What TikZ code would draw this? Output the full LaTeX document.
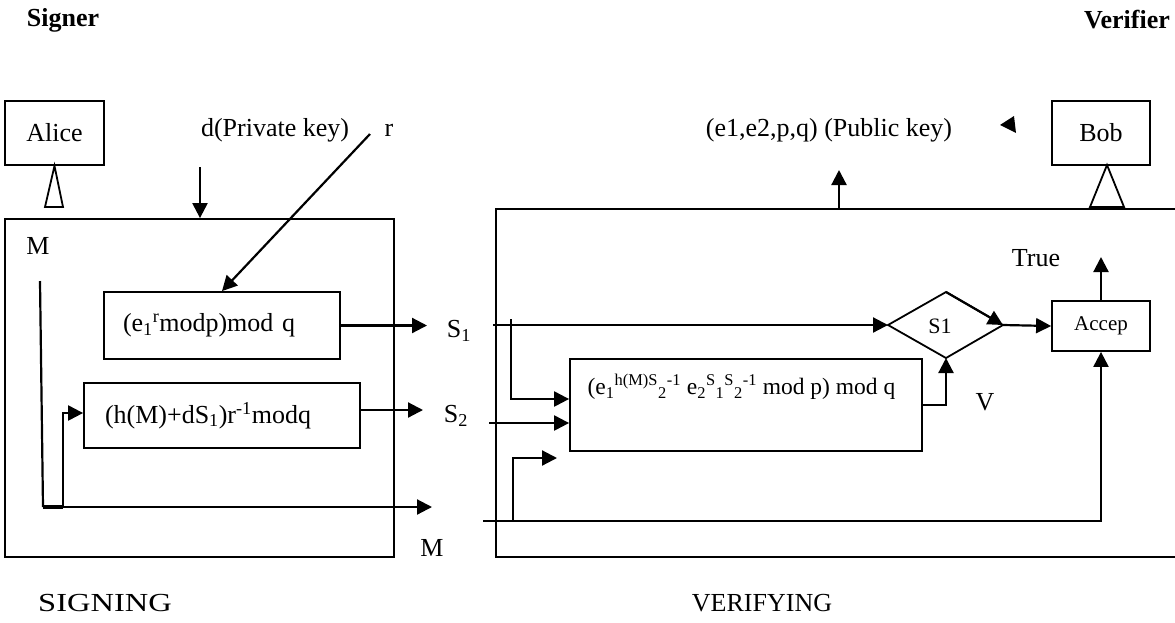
\documentclass[tikz,border=0pt]{standalone}
\usepackage{fontspec}
\usepackage{graphicx}
\setmainfont{Liberation Serif}
\usetikzlibrary{arrows.meta}
\newcommand\mysub[1]{\textsubscript{#1}}
\newcommand\mysup[1]{\textsuperscript{#1}}
\tikzset{
  box/.style={draw, line width=1.8pt, inner sep=0pt},
  txt/.style={inner sep=0pt},
  arr/.style={line width=2.2pt, -{Triangle[length=15pt,width=15pt]}},
  ln/.style={line width=2.2pt},
  outline/.style={line width=1.8pt},
}
\begin{document}
\begin{tikzpicture}[x=1pt,y=-1pt,font=\fontsize{26}{31}\selectfont,line join=miter]
\useasboundingbox (0,0) rectangle (1175,622);

% titles
\node[txt,font=\fontsize{26}{31}\selectfont\bfseries] (signer) at (63,20) {Signer};
\node[txt,font=\fontsize{26}{31}\selectfont\bfseries] (verifier) at (1127,20) {Verifier};

% actors
\node[box,minimum width=99pt,minimum height=64pt] (alice) at (54.5,133) {Alice};
\node[box,minimum width=98pt,minimum height=64pt] (bob) at (1101,133) {Bob};
\draw[outline] (alice.south) -- (45,207) -- (63,207) -- cycle;
\draw[outline] (1107,165) -- (1090,207) -- (1124,207) -- cycle;

% key labels
\node[txt] (dkey) at (275,130) {d(Private key)};
\node[txt] (r) at (389,130) {r};
\node[txt] (pk) at (829,130) {(e1,e2,p,q) (Public key)};
\fill (1000,125) -- (1014,116) -- (1016,133) -- cycle;

% signing
\node[box,minimum width=389pt,minimum height=338pt] (sign) at (199.5,388) {};
\node[box,minimum height=67pt,inner xsep=19pt,text width=198pt,align=left] (b1) at (222,325.5) {(e\mysub{1}\mysup{r}modp)mod q};
\node[box,minimum height=65pt,inner xsep=21pt,text width=234pt,align=left] (b2) at (222,415.5) {(h(M)+dS\mysub{1})r\mysup{-1}modq};

\coordinate (dstart) at (200,167);
\draw[arr] (dstart) -- (dstart |- sign.north);
\coordinate (rstart) at (370,134);
\draw[arr] (rstart) -- (b1.north);

\node[txt] (s1) at (459,331) {S\mysub{1}};
\node[txt] (s2) at (456,416) {S\mysub{2}};
\coordinate (s1tip) at (427,325.5);
\coordinate (s2tip) at (423,410);
\draw[arr] (b1.east) -- (s1tip);
\draw[arr] (b2.east |- s2tip) -- (s2tip);

\node[txt] (m1) at (38,246) {M};
\node[txt] (m2) at (432,548) {M};
\coordinate (mtop) at (40,281);
\coordinate (mcorner) at (43,507);
\coordinate (mjoin) at (63,507);
\coordinate (mout) at (432,507);
\draw[ln] (mtop) -- (mcorner);
\draw[arr] (mcorner) -- (mout);
\draw[line width=3.5pt] (mcorner) -- (mjoin);
\draw[arr] (mjoin) -- (63,413) -- (b2.west |- 0,413);

\node[txt] (signing) at (105,603) {\scalebox{1.25}[1]{SIGNING}};

% verifying
\draw[outline] (1176,209) -- (496,209) -- (496,557) -- (1176,557);
\coordinate (pkbase) at (839,209);
\draw[arr] (pkbase) -- (839,170);

\node[box,minimum width=352pt,minimum height=92pt] (ebox) at (746,405) {};
\node[txt,font=\fontsize{23.5}{28}\selectfont] (etext) at (741.5,387) {(e\mysub{1}\mysup{h(M)S}\mysub{2}\mysup{-1} e\mysub{2}\mysup{S}\mysub{1}\mysup{S}\mysub{2}\mysup{-1} mod p) mod q};

\coordinate (dL) at (888,325);
\coordinate (dT) at (946,292);
\coordinate (dR) at (1003,325);
\coordinate (dB) at (946,358);
\draw[outline] (dL) -- (dT) -- (dR) -- (dB) -- cycle;
\draw[arr] (dT) -- (dR);
\node[txt,font=\fontsize{22}{26}\selectfont] (s1d) at (940,326) {S1};

\node[box,minimum width=98pt,minimum height=50pt,font=\fontsize{21}{25}\selectfont] (acc) at (1101,326) {Accep};

\coordinate (s1in) at (493,325);
\draw[arr] (s1in) -- (dL);
\draw[arr] (511,319) -- (511,399) -- (ebox.west |- 0,399);
\coordinate (s2in) at (489,423);
\draw[arr] (s2in) -- (ebox.west |- s2in);
\coordinate (min) at (483,521);
\draw[arr] (min) -| (acc.south);
\draw[arr] (513,521) -- (513,458) -- (557,458);
\draw[arr] (ebox.east) -| (dB);
\node[txt] (v) at (985,402) {V};
\draw[arr] (dR) -- (acc.west);
\coordinate (truetip) at (1101,257);
\draw[arr] (acc.north) -- (truetip);
\node[txt] (true) at (1036,258) {True};

\node[txt] (verifying) at (762,603) {VERIFYING};
\end{tikzpicture}
\end{document}
